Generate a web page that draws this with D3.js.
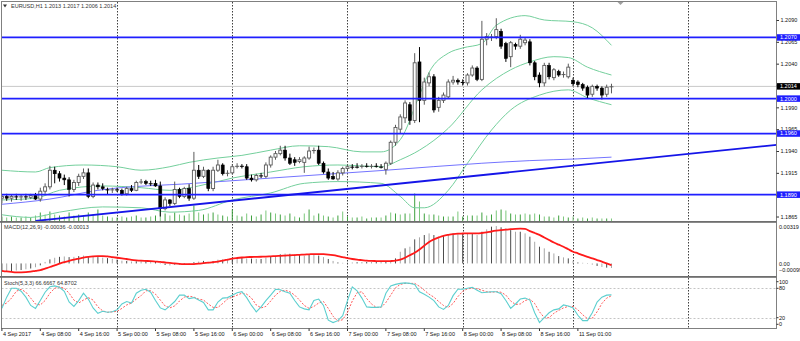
<!DOCTYPE html>
<html><head><meta charset="utf-8">
<script src="https://cdn.jsdelivr.net/npm/d3@7"></script>
<style>
body{margin:0;background:#fff;}
svg{display:block;font-family:"Liberation Sans",Arial,sans-serif;}
</style>
</head><body>
<svg id="c" width="800" height="341"></svg>
<script>
// ---------------- DATA ----------------
const symbolTitle = "EURUSD,H1  1.2013 1.2017 1.2006 1.2014";
const macdTitle = "MACD(12,26,9) -0.00036 -0.00013";
const stochTitle = "Stoch(5,3,3) 66.6667 64.8702";

const opens = [1.1886,1.1888,1.1886,1.1888,1.1887,1.1888,1.1887,1.1889,1.1885,1.1894,
1.1899,1.1918,1.1914,1.1909,1.1907,1.1896,1.1904,1.1911,1.1915,1.1888,
1.1901,1.1899,1.1896,1.1895,1.1896,1.1895,1.1891,1.1897,1.1895,1.1904,
1.1905,1.1903,1.1903,1.1900,1.1874,1.1884,1.1880,1.1896,1.1888,1.1897,
1.1886,1.1918,1.1911,1.1918,1.1897,1.1918,1.1924,1.1914,1.1915,1.1922,
1.1923,1.1922,1.1909,1.1907,1.1912,1.1911,1.1924,1.1933,1.1937,1.1941,
1.1932,1.1930,1.1928,1.1927,1.1932,1.1940,1.1941,1.1926,1.1916,1.1911,
1.1908,1.1915,1.1920,1.1922,1.1922,1.1922,1.1923,1.1922,1.1923,1.1922,
1.1919,1.1926,1.1950,1.1965,1.1978,1.1993,1.1975,1.2042,1.1998,1.2018,
1.2025,1.1990,1.1998,1.2002,1.2019,1.2021,1.2019,1.2018,1.2027,1.2035,
1.2022,1.2068,1.2070,1.2071,1.2077,1.2063,1.2048,1.2062,1.2060,1.2064,
1.2065,1.2041,1.2027,1.2018,1.2038,1.2024,1.2031,1.2027,1.2025,1.2021,
1.2019,1.2016,1.2013,1.2005,1.2014,1.2012,1.2005,1.2013];
const highs = [1.1890,1.1891,1.1890,1.1891,1.1890,1.1891,1.1891,1.1892,1.1898,1.1903,
1.1923,1.1922,1.1917,1.1913,1.1910,1.1907,1.1914,1.1920,1.1920,1.1904,
1.1904,1.1903,1.1898,1.1898,1.1898,1.1897,1.1899,1.1901,1.1906,1.1908,
1.1907,1.1906,1.1907,1.1905,1.1887,1.1885,1.1905,1.1898,1.1899,1.1902,
1.1939,1.1924,1.1922,1.1919,1.1922,1.1930,1.1926,1.1918,1.1925,1.1926,
1.1925,1.1925,1.1913,1.1914,1.1915,1.1927,1.1935,1.1940,1.1946,1.1946,
1.1937,1.1933,1.1933,1.1934,1.1945,1.1944,1.1946,1.1928,1.1920,1.1916,
1.1918,1.1922,1.1924,1.1925,1.1926,1.1925,1.1926,1.1925,1.1926,1.1925,
1.1928,1.1952,1.1970,1.1982,1.1998,1.1996,1.2052,1.2059,1.2024,1.2030,
1.2028,1.2002,1.2007,1.2022,1.2026,1.2023,1.2022,1.2029,1.2038,1.2037,
1.2089,1.2075,1.2074,1.2092,1.2080,1.2065,1.2066,1.2064,1.2073,1.2070,
1.2068,1.2043,1.2030,1.2041,1.2041,1.2035,1.2033,1.2031,1.2040,1.2024,
1.2021,1.2018,1.2015,1.2016,1.2016,1.2014,1.2016,1.2017];
const lows = [1.1880,1.1883,1.1882,1.1884,1.1883,1.1884,1.1885,1.1884,1.1882,1.1891,
1.1896,1.1903,1.1905,1.1901,1.1888,1.1893,1.1900,1.1908,1.1886,1.1886,
1.1896,1.1895,1.1890,1.1892,1.1893,1.1889,1.1889,1.1893,1.1894,1.1902,
1.1901,1.1900,1.1899,1.1865,1.1872,1.1877,1.1878,1.1886,1.1886,1.1883,
1.1884,1.1908,1.1909,1.1894,1.1894,1.1916,1.1912,1.1911,1.1913,1.1920,
1.1920,1.1907,1.1905,1.1905,1.1909,1.1909,1.1921,1.1930,1.1935,1.1929,
1.1924,1.1923,1.1926,1.1915,1.1930,1.1937,1.1924,1.1914,1.1907,1.1907,
1.1906,1.1912,1.1918,1.1919,1.1920,1.1920,1.1921,1.1920,1.1921,1.1920,
1.1913,1.1924,1.1946,1.1960,1.1972,1.1970,1.1972,1.1973,1.1993,1.2014,
1.1984,1.1985,1.1995,1.2000,1.2016,1.2016,1.2015,1.2015,1.2025,1.2020,
1.2020,1.2061,1.2066,1.2068,1.2057,1.2042,1.2036,1.2056,1.2057,1.2061,
1.2038,1.2021,1.2013,1.2014,1.2022,1.2021,1.2025,1.2024,1.2023,1.2014,
1.2013,1.2009,1.2000,1.2002,1.2009,1.1999,1.2002,1.2006];
const closes = [1.1888,1.1886,1.1888,1.1887,1.1888,1.1887,1.1889,1.1885,1.1894,1.1899,
1.1918,1.1914,1.1909,1.1907,1.1896,1.1904,1.1911,1.1915,1.1888,1.1901,
1.1899,1.1897,1.1895,1.1896,1.1895,1.1891,1.1897,1.1895,1.1904,1.1905,
1.1903,1.1902,1.1900,1.1874,1.1884,1.1880,1.1896,1.1888,1.1897,1.1886,
1.1918,1.1911,1.1918,1.1897,1.1918,1.1924,1.1914,1.1915,1.1922,1.1923,
1.1922,1.1909,1.1907,1.1912,1.1911,1.1924,1.1933,1.1937,1.1941,1.1932,
1.1926,1.1927,1.1930,1.1932,1.1940,1.1941,1.1926,1.1916,1.1909,1.1908,
1.1915,1.1920,1.1922,1.1921,1.1921,1.1923,1.1922,1.1923,1.1922,1.1921,
1.1926,1.1950,1.1967,1.1979,1.1995,1.1975,1.2041,1.1998,1.2019,1.2025,
1.1987,1.1998,1.2004,1.2019,1.2021,1.2019,1.2018,1.2027,1.2035,1.2022,
1.2068,1.2071,1.2071,1.2079,1.2060,1.2046,1.2064,1.2060,1.2068,1.2067,
1.2041,1.2025,1.2018,1.2038,1.2025,1.2033,1.2027,1.2028,1.2036,1.2017,
1.2016,1.2012,1.2004,1.2014,1.2012,1.2004,1.2013,1.2014];

const volumes = [2500,2000,2500,2000,2000,2500,2000,3000,4500,3500,
5000,3500,3000,2500,4500,3000,3500,3000,4500,3500,
6000,3000,2500,2000,2000,2500,2000,2500,3000,2000,
2000,2500,3000,7500,4000,3000,4500,3500,3000,4000,
8000,4500,3500,4000,4500,3500,3000,2500,6000,3000,
2500,4000,3000,2500,3500,5500,4500,4000,3500,3000,
4000,2500,2000,4000,6000,3000,4000,3000,2500,2000,
3000,5000,2500,2000,2000,2500,1500,2000,2000,2000,
3000,4500,4000,3500,4000,4000,14000,10000,4000,3500,
3500,3000,2500,2500,2500,5000,2500,3000,3000,3000,
4500,3000,3500,5500,6000,5500,4000,3500,3500,4000,
3500,4000,3500,2500,2500,2000,3000,2500,2000,2500,
1500,2000,1500,2000,1500,1500,1500,1500];

// Bollinger bands (20,2) read at sample bars
const bbUpperBars = [0,7,10,17,24,29,35,39,45,50,56,62,68,75,79,83,87,89,93,96,100,103,109,113,119,123,127];
const bbUpper = [1.1918,1.1916,1.1921,1.1924,1.1922,1.1918,1.1922,1.1927,1.1932,1.1935,1.1941,1.1946,1.1945,1.1939,1.1939,1.1953,1.2004,1.2030,1.2052,1.2058,1.2063,1.2084,1.2095,1.2090,1.2088,1.2081,1.2061];
const bbMiddleBars = [0,7,12,21,29,35,41,48,56,63,70,79,83,87,93,100,106,110,115,118,122,127];
const bbMiddle = [1.1884,1.1886,1.1895,1.1900,1.1898,1.1895,1.1900,1.1909,1.1916,1.1922,1.1924,1.1922,1.1930,1.1941,1.1966,1.2010,1.2033,1.2042,1.2048,1.2047,1.2036,1.2027];
const bbLowerBars = [0,6,12,21,29,35,41,48,56,63,70,79,83,86,88,93,97,102,106,112,118,122,127];
const bbLower = [1.1867,1.1864,1.1870,1.1876,1.1875,1.1870,1.1872,1.1884,1.1892,1.1903,1.1905,1.1903,1.1888,1.1875,1.1875,1.1895,1.1926,1.1964,1.1987,1.2004,1.2010,1.2001,1.1993];

// slow moving average (thin blue)
const maBars = [0,10,20,40,56,80,100,110,120,127];
const maValues = [1.1879,1.1885,1.1895,1.1903,1.1909,1.1918,1.1926,1.1929,1.1931,1.1933];

// horizontal levels and trendline
const hLevels = [1.2070,1.2000,1.1960,1.1890];
const currentPrice = 1.2014;
const trendBars = [7,161.4];
const trendPrices = [1.1860,1.1947];

// MACD (in units of 0.001)
const macdMain = [-0.65,-0.62,-0.6,-0.56,-0.52,-0.46,-0.4,-0.3,-0.15,0.12,
0.32,0.45,0.52,0.55,0.5,0.52,0.58,0.62,0.5,0.52,
0.5,0.46,0.42,0.38,0.3,0.22,0.2,0.15,0.17,0.2,
0.2,0.18,0.15,-0.05,-0.12,-0.16,-0.1,-0.12,-0.08,-0.12,
0.1,0.15,0.2,0.1,0.18,0.3,0.3,0.3,0.38,0.42,
0.45,0.4,0.38,0.36,0.35,0.45,0.55,0.6,0.72,0.78,
0.76,0.72,0.68,0.6,0.66,0.7,0.62,0.5,0.35,0.2,
0.08,0.05,0.05,0.08,0.1,0.12,0.12,0.12,0.12,0.13,
0.13,0.24,0.4,0.92,1.19,1.32,1.9,2.06,2.24,2.37,
2.24,2.11,2.24,2.24,2.37,2.37,2.32,2.37,2.37,2.24,
2.5,2.69,2.9,2.95,2.85,2.77,2.63,2.5,2.5,2.37,
2.11,1.71,1.32,1.19,0.92,0.79,0.58,0.48,0.4,0.21,
0.08,0.05,-0.02,-0.1,-0.2,-0.28,-0.33,-0.36];
const macdSignal = [-0.58,-0.63,-0.67,-0.7,-0.7,-0.69,-0.65,-0.58,-0.52,-0.4,
-0.28,-0.15,-0.02,0.1,0.2,0.3,0.38,0.46,0.52,0.56,
0.58,0.58,0.55,0.5,0.45,0.4,0.35,0.29,0.25,0.22,
0.2,0.18,0.15,0.12,0.08,0.04,0.0,-0.03,-0.05,-0.06,
-0.05,-0.02,0.02,0.06,0.1,0.15,0.22,0.3,0.38,0.43,
0.47,0.5,0.51,0.52,0.53,0.54,0.56,0.58,0.6,0.62,
0.64,0.66,0.68,0.7,0.72,0.74,0.74,0.73,0.7,0.65,
0.58,0.5,0.42,0.35,0.3,0.26,0.22,0.2,0.19,0.18,
0.18,0.19,0.22,0.3,0.45,0.65,0.85,1.1,1.4,1.7,
1.9,2.05,2.18,2.26,2.32,2.35,2.36,2.37,2.37,2.37,
2.4,2.45,2.52,2.58,2.63,2.67,2.7,2.73,2.74,2.72,
2.55,2.4,2.25,2.05,1.85,1.65,1.48,1.32,1.12,0.92,
0.8,0.65,0.52,0.4,0.27,0.15,0.0,-0.13];

// Stochastic (5,3,3)
const stochK = [39,62,80,80,74,62,45,39,55,72,83,85,82,74,52,43,55,70,58,40,
29,33,31,32,36,48,53,50,70,76,78,72,55,40,36,44,53,66,66,59,
61,56,51,36,36,52,60,61,66,71,73,61,45,32,42,55,66,78,77,73,
70,55,42,38,36,55,58,45,15,10,14,24,55,83,75,60,42,41,41,42,
70,85,88,90,91,90,88,73,68,62,55,42,37,45,65,78,78,80,82,76,
71,72,73,73,69,55,39,48,58,60,56,30,10,20,30,36,38,46,44,40,
25,14,14,30,52,62,66,66.6667];
const stochD = [45,50,60,74,78,72,60,48,46,55,70,80,83,80,70,56,50,56,61,56,
42,34,31,32,33,39,46,50,58,65,75,75,68,56,44,40,44,54,62,64,
62,58,56,48,41,41,49,58,62,66,70,68,60,46,40,43,54,66,74,76,
73,66,56,45,39,43,50,53,39,23,13,16,31,54,71,73,59,48,41,41,
51,66,81,88,90,90,90,84,76,68,62,53,45,41,49,63,74,79,80,79,
76,73,72,73,72,66,54,47,48,55,58,49,32,20,20,29,35,40,43,43,
36,26,18,19,32,49,60,64.8702];

// time axis
const labelBars = [0,8,16,24,32,40,48,56,64,72,80,88,96,104,112,120];
const timeLabels = ["4 Sep 2017","4 Sep 08:00","4 Sep 16:00","5 Sep 00:00","5 Sep 08:00","5 Sep 16:00",
"6 Sep 00:00","6 Sep 08:00","6 Sep 16:00","7 Sep 00:00","7 Sep 08:00","7 Sep 16:00",
"8 Sep 00:00","8 Sep 08:00","8 Sep 16:00","11 Sep 01:00"];
const daySeparators = [24,48,72,96,119,143];
const priceTicks = [1.2090,1.2065,1.2040,1.2015,1.1990,1.1965,1.1940,1.1915,1.1890,1.1865];
const macdTicks = [0.00319,0,-0.00099];
const stochTicks = [100,80,20,0];
const stochLevels = [80,20];

// ---------------- DRAW ----------------
const svg = d3.select('#c');
const L = 1.5, R = 776.5;
const x = d3.scaleLinear().domain([0,161.4]).range([1.9,776.6]);
const yP = d3.scaleLinear().domain([1.18593,1.21106]).range([221.5,2]);
const yV = d3.scaleLinear().domain([0,20000]).range([221.5,181.5]);
const yM = d3.scaleLinear().domain([-0.00099,0.00319]).range([276,223]);
const yS = d3.scaleLinear().domain([0,100]).range([327.5,278.5]);
const FS = "5.5px";

svg.append('rect').attr('width',800).attr('height',341).attr('fill','#fff');

const defs = svg.append('defs');
defs.append('clipPath').attr('id','cm').append('rect').attr('x',L).attr('y',2).attr('width',R-L).attr('height',219.5);
defs.append('clipPath').attr('id','cmacd').append('rect').attr('x',L).attr('y',222.5).attr('width',R-L).attr('height',54);
defs.append('clipPath').attr('id','cst').append('rect').attr('x',L).attr('y',277.5).attr('width',R-L).attr('height',51);

// day separators (dotted)
svg.append('g').selectAll('line').data(daySeparators).join('line')
  .attr('x1',d=>Math.round(x(d))+0.5).attr('x2',d=>Math.round(x(d))+0.5)
  .attr('y1',2).attr('y2',328.5)
  .attr('stroke','#404040').attr('stroke-width',1).attr('stroke-dasharray','1.5,1.5');

// ---- main panel ----
const gMain = svg.append('g').attr('clip-path','url(#cm)');

// current price line
gMain.append('line').attr('x1',L).attr('x2',R)
  .attr('y1',yP(currentPrice)).attr('y2',yP(currentPrice))
  .attr('stroke','#c8c8c8').attr('stroke-width',1);

// volumes
gMain.append('g').selectAll('line').data(volumes).join('line')
  .attr('x1',(d,i)=>x(i)).attr('x2',(d,i)=>x(i))
  .attr('y1',yV(0)).attr('y2',d=>yV(d))
  .attr('stroke',(d,i)=> i%2 ? '#7cc87c' : '#3ea03e').attr('stroke-width',1);

// bollinger bands
const bbColor = '#74cf9c';
function bandLine(bars, vals){
  return d3.line().x((d,k)=>x(bars[k])).y(d=>yP(d)).curve(d3.curveMonotoneX)(vals);
}
[[bbUpperBars,bbUpper],[bbMiddleBars,bbMiddle],[bbLowerBars,bbLower]].forEach(([b,v])=>{
  gMain.append('path').attr('d',bandLine(b,v)).attr('fill','none')
    .attr('stroke',bbColor).attr('stroke-width',1);
});

// moving average
gMain.append('path').attr('d',bandLine(maBars,maValues)).attr('fill','none')
  .attr('stroke','#7474ff').attr('stroke-width',1);

// candles
const gc = gMain.append('g');
const bodyW = 3;
opens.forEach((o,i)=>{
  const c = closes[i], h = highs[i], l = lows[i];
  const cx = x(i);
  const bull = c >= o;
  const col = bull ? '#5a5a5a' : '#000';
  gc.append('line').attr('x1',cx).attr('x2',cx).attr('y1',yP(h)).attr('y2',yP(l))
    .attr('stroke',col).attr('stroke-width',1);
  const y1 = yP(Math.max(o,c)), y2 = yP(Math.min(o,c));
  if (y2 - y1 < 1) {
    gc.append('line').attr('x1',cx-bodyW/2-0.5).attr('x2',cx+bodyW/2+0.5)
      .attr('y1',(y1+y2)/2).attr('y2',(y1+y2)/2).attr('stroke',col).attr('stroke-width',1);
  } else {
    gc.append('rect').attr('x',cx-bodyW/2).attr('y',y1).attr('width',bodyW).attr('height',y2-y1)
      .attr('fill',bull?'#fff':'#000').attr('stroke',col).attr('stroke-width',bull?0.9:0.6);
  }
});

// horizontal levels
gMain.append('g').selectAll('line').data(hLevels).join('line')
  .attr('x1',L).attr('x2',R).attr('y1',d=>yP(d)).attr('y2',d=>yP(d))
  .attr('stroke','#1f1fff').attr('stroke-width',1.8);

// trendline
gMain.append('path')
  .attr('d',d3.line().x((d,k)=>x(trendBars[k])).y(d=>yP(d))(trendPrices))
  .attr('stroke','#1515e8').attr('stroke-width',1.8).attr('fill','none');

// shift marker
svg.append('path').attr('d','M617.5,2 L623.5,2 L620.5,5 Z').attr('fill','#a0a0a0');

// title
svg.append('path').attr('d','M3,4.5 L7,4.5 L5,7.5 Z').attr('fill','#333');
svg.append('text').attr('x',11).attr('y',8.2).attr('font-size',FS).attr('fill','#333').text(symbolTitle);

// ---- MACD panel ----
const gMacd = svg.append('g').attr('clip-path','url(#cmacd)');
gMacd.append('g').selectAll('line').data(macdMain).join('line')
  .attr('x1',(d,i)=>x(i)).attr('x2',(d,i)=>x(i))
  .attr('y1',yM(0)).attr('y2',d=>yM(d/1000))
  .attr('stroke',(d,i)=> i%2 ? '#a8a8a8' : '#4a4a4a').attr('stroke-width',1);
gMacd.append('path')
  .attr('d',d3.line().x((d,i)=>x(i)).y(d=>yM(d/1000)).curve(d3.curveMonotoneX)(macdSignal))
  .attr('fill','none').attr('stroke','#ff1a1a').attr('stroke-width',1.8);
svg.append('text').attr('x',4).attr('y',229.2).attr('font-size',FS).attr('fill','#333').text(macdTitle);

// ---- Stochastic panel ----
const gSt = svg.append('g').attr('clip-path','url(#cst)');
gSt.append('g').selectAll('line').data(stochLevels).join('line')
  .attr('x1',L).attr('x2',R).attr('y1',d=>Math.round(yS(d))+0.5).attr('y2',d=>Math.round(yS(d))+0.5)
  .attr('stroke','#c4c4c4').attr('stroke-width',1).attr('stroke-dasharray','2,2');
gSt.append('path')
  .attr('d',d3.line().x((d,i)=>x(i)).y(d=>yS(d))(stochD))
  .attr('fill','none').attr('stroke','#ff5a5a').attr('stroke-width',1).attr('stroke-dasharray','2,1.5');
gSt.append('path')
  .attr('d',d3.line().x((d,i)=>x(i)).y(d=>yS(d))(stochK))
  .attr('fill','none').attr('stroke','#5ccfcf').attr('stroke-width',1.1);
svg.append('text').attr('x',4).attr('y',284.6).attr('font-size',FS).attr('fill','#333').text(stochTitle);

// ---- frames ----
svg.append('rect').attr('x',L).attr('y',1.5).attr('width',R-L).attr('height',327)
  .attr('fill','none').attr('stroke','#808080').attr('stroke-width',1);
svg.append('rect').attr('x',0).attr('y',221).attr('width',R).attr('height',1.8).attr('fill','#6e6e6e');
svg.append('rect').attr('x',0).attr('y',276).attr('width',R).attr('height',1.8).attr('fill','#6e6e6e');

// ---- price axis ----
const ax = svg.append('g').attr('transform',`translate(${R},0)`)
  .call(d3.axisRight(yP).tickValues(priceTicks).tickSize(2.5).tickPadding(1.5).tickFormat(d3.format('.4f')));
ax.select('.domain').remove();
ax.selectAll('text').attr('font-size',FS).attr('fill','#111').attr('font-family','"Liberation Sans",Arial,sans-serif');
ax.selectAll('line').attr('stroke','#333');

// level price boxes
const boxH = 6.5;
hLevels.forEach(v=>{
  svg.append('rect').attr('x',R+0.5).attr('y',yP(v)-boxH/2).attr('width',23).attr('height',boxH).attr('fill','#1f1fff');
  svg.append('text').attr('x',R+3.5).attr('y',yP(v)).attr('dy','0.35em').attr('font-size',FS).attr('fill','#fff').text(d3.format('.4f')(v));
});
svg.append('rect').attr('x',R+0.5).attr('y',yP(currentPrice)-boxH/2).attr('width',23).attr('height',boxH).attr('fill','#000');
svg.append('text').attr('x',R+3.5).attr('y',yP(currentPrice)).attr('dy','0.35em').attr('font-size',FS).attr('fill','#fff').text(d3.format('.4f')(currentPrice));

// MACD axis labels
const macdOffset = [3.7,0.6,-5.8];
macdTicks.forEach((v,k)=>{
  svg.append('text').attr('x',R+2.5).attr('y',yM(v)+macdOffset[k]).attr('dy','0.35em')
    .attr('font-size',FS).attr('fill','#111').text(v===0?'0.00':d3.format('.5f')(v));
});
// Stoch axis labels
const stOffset = [3.2,0,0,-3.2];
stochTicks.forEach((v,k)=>{
  svg.append('text').attr('x',R+2.5).attr('y',yS(v)+stOffset[k]).attr('dy','0.35em')
    .attr('font-size',FS).attr('fill','#111').text(v);
  svg.append('line').attr('x1',R).attr('x2',R+2).attr('y1',yS(v)+stOffset[k]).attr('y2',yS(v)+stOffset[k]).attr('stroke','#333');
});

// time axis
labelBars.forEach((b,k)=>{
  const px = x(b);
  svg.append('line').attr('x1',px).attr('x2',px).attr('y1',328.5).attr('y2',331).attr('stroke','#333');
  svg.append('text').attr('x',px+1).attr('y',335.5).attr('font-size',FS).attr('fill','#111').text(timeLabels[k]);
});
</script>
</body></html>
